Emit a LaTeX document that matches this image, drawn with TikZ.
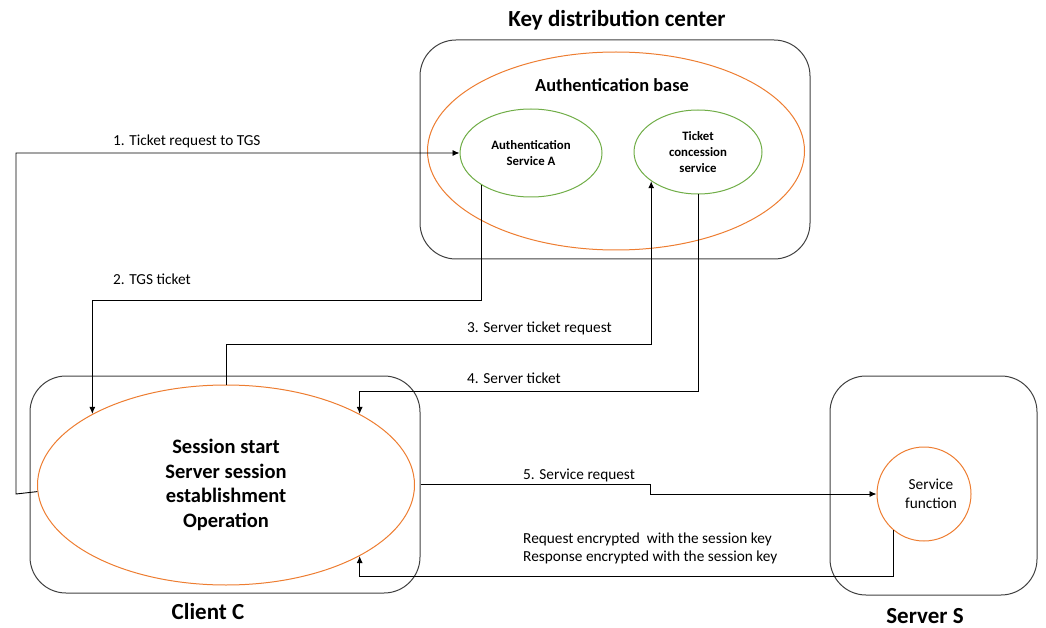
\documentclass[tikz,border=0pt]{standalone}
\usepackage{fontspec}
\setmainfont{Carlito}
\usetikzlibrary{shapes.geometric,arrows.meta}
\definecolor{boxgray}{RGB}{64,64,64}
\definecolor{officeorange}{RGB}{237,125,49}
\definecolor{officegreen}{RGB}{112,173,71}
\tikzset{
  container/.style={draw=boxgray, line width=1pt, rounded corners=36pt, inner sep=0pt},
  outerellipse/.style={ellipse, draw=officeorange, line width=1pt, inner sep=0pt},
  serviceellipse/.style={ellipse, draw=officegreen, line width=1pt, inner sep=0pt,
    align=center, font=\fontsize{12.8}{16}\selectfont\bfseries},
  flow/.style={draw=black, line width=0.9pt, -{Latex[length=7pt,width=6pt]}},
  title/.style={font=\fontsize{23}{26}\selectfont\bfseries},
  steplabel/.style={font=\fontsize{15.3}{18}\selectfont, inner sep=0pt}
}
\begin{document}
\begin{tikzpicture}[x=1pt, y=-1pt]
\useasboundingbox (0,0) rectangle (1046,628);

% Key distribution center
\node[container, minimum width=390pt, minimum height=219pt] (kdc) at (615,149.5) {};
\node[title] (kdctitle) at (617,20) {Key distribution center};
\node[outerellipse, minimum width=377pt, minimum height=198pt] (ab) at (616,151) {};
\node[font=\fontsize{18.4}{22}\selectfont\bfseries] (abtitle) at (612,85) {Authentication base};
\node[serviceellipse, minimum width=142pt, minimum height=88pt] (asa) at (531,153)
  {Authentication\\Service A};
\node[serviceellipse, minimum width=128pt, minimum height=84pt] (tcs) at (698,152)
  {Ticket\\concession\\service};

% Client C
\node[container, minimum width=390pt, minimum height=217pt] (cb) at (225,484.5) {};
\node[outerellipse, minimum width=377pt, minimum height=200pt, align=center,
  font=\fontsize{20.5}{24.7}\selectfont\bfseries] (cl) at (226,485)
  {Session start\\Server session\\establishment\\Operation};
\node[title] (cltitle) at (208,612) {Client C};

% Server S
\node[container, minimum width=207pt, minimum height=219pt] (sb) at (933.5,485.5) {};
\node[circle, draw=officeorange, line width=1pt, minimum size=94pt, inner sep=0pt,
  align=center, font=\fontsize{15.3}{19}\selectfont] (sf) at (924,494)
  {\hspace*{14pt}Service\\\hspace*{14pt}function};
\node[title] (sbtitle) at (925,616) {Server S};

% Message flow
\coordinate (leftrail) at (16,494);
\draw[flow] (cl.182.75) -- (leftrail) |- (asa.west);
\draw[flow] (asa.213) -- ++(0,115) -| (cl.152);
\draw[flow] (cl.north) -- ++(0,-40) -| (tcs.212.4);
\draw[flow] (tcs.south) -- ++(0,197) -| (cl.28);
\draw[flow] (cb.east) -- ++(230,0) |- (sf.west);
\draw[flow] (sf.230.4) -- ++(0,46) -| (cl.332);

% Step labels
\node[steplabel, anchor=west] (l1) at (113,141) {1. Ticket request to TGS};
\node[steplabel, anchor=west] (l2) at (113,279) {2. TGS ticket};
\node[steplabel, anchor=west] (l3) at (467,328) {3. Server ticket request};
\node[steplabel, anchor=west] (l4) at (467,378) {4. Server ticket};
\node[steplabel, anchor=west] (l5) at (523,475) {5. Service request};
\node[steplabel, anchor=west] (l6) at (523,539) {Request encrypted\ \ with the session key};
\node[steplabel, anchor=west] (l7) at (523,557) {Response encrypted with the session key};
\end{tikzpicture}
\end{document}
